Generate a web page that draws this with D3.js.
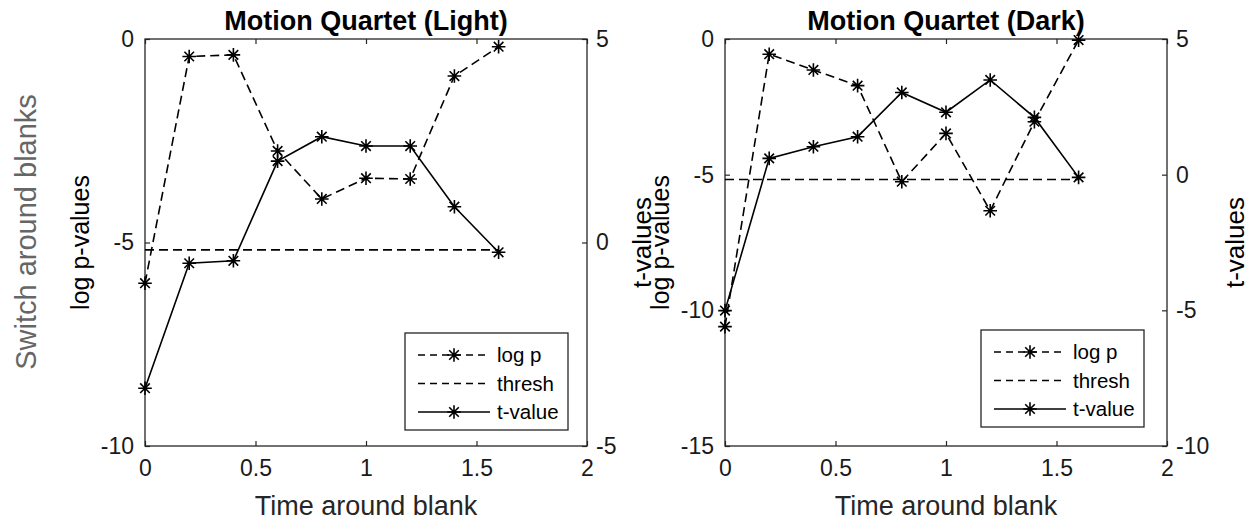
<!DOCTYPE html>
<html>
<head>
<meta charset="utf-8">
<script src="https://cdn.jsdelivr.net/npm/d3@7"></script>
<style>
  html, body { margin: 0; padding: 0; background: #fff; }
  svg { display: block; }
  text { font-family: "Liberation Sans", Arial, Helvetica, sans-serif; }
</style>
</head>
<body>
<svg id="fig" width="1259" height="521"></svg>
<script>
// Time points around the blank
const time = [0, 0.2, 0.4, 0.6, 0.8, 1.0, 1.2, 1.4, 1.6];

// Motion Quartet (Light)
const lightLogP = [-6.0, -0.43, -0.39, -2.75, -3.93, -3.42, -3.44, -0.91, -0.19];
const lightT    = [-3.58, -0.51, -0.45, 2.0, 2.6, 2.37, 2.37, 0.88, -0.24];

// Motion Quartet (Dark)
const darkLogP = [-10.6, -0.56, -1.14, -1.72, -5.26, -3.48, -6.33, -3.05, -0.04];
const darkT    = [-5.01, 0.6, 1.03, 1.4, 3.03, 2.3, 3.49, 2.11, -0.1];

// Significance threshold on log p
const threshValue = -5.18;
const threshSpan = [0, 1.6];

// Axis ticks
const xTicks = [0, 0.5, 1, 1.5, 2];
const lightLeftTicks = [0, -5, -10];
const lightRightTicks = [5, 0, -5];
const darkLeftTicks = [0, -5, -10, -15];
const darkRightTicks = [5, 0, -5, -10];

const legendLabels = ["log p", "thresh", "t-value"];

const svg = d3.select("#fig");
const AX = "#262626";
const DASH = "9,5";
const LW = 1.6;

// asterisk marker: + and x superimposed
function asterisk(g, x, y) {
  const r = 6.8, d = 4.8;
  const p = `M${x - r},${y}L${x + r},${y}M${x},${y - r}L${x},${y + r}` +
            `M${x - d},${y - d}L${x + d},${y + d}M${x - d},${y + d}L${x + d},${y - d}`;
  g.append("path").attr("d", p).attr("stroke", "#000").attr("stroke-width", 1.6).attr("fill", "none");
}

function panel(opts) {
  const { left, right, top, bottom, title, logP, tVals, leftDomain, rightDomain,
          leftTicks, rightTicks, leftLabelX, rightLabels } = opts;
  const g = svg.append("g");
  const x = d3.scaleLinear().domain([0, 2]).range([left, right]);
  const yL = d3.scaleLinear().domain(leftDomain).range([bottom, top]);
  const yR = d3.scaleLinear().domain(rightDomain).range([bottom, top]);
  const tick = 5;

  // axes with inward ticks on all four sides
  const bottomAxis = d3.axisBottom(x).tickValues(xTicks).tickSize(-tick).tickPadding(14)
    .tickFormat(d3.format("~g"));
  const topAxis = d3.axisTop(x).tickValues(xTicks).tickSize(-tick).tickFormat("");
  const leftAxis = d3.axisLeft(yL).tickValues(leftTicks).tickSize(-tick).tickPadding(11)
    .tickFormat(d => d < 0 ? "-" + Math.abs(d) : d);
  const rightAxis = d3.axisRight(yR).tickValues(rightTicks).tickSize(-tick).tickPadding(9)
    .tickFormat(d => d < 0 ? "-" + Math.abs(d) : d);

  const style = sel => {
    sel.selectAll(".tick line").attr("stroke", AX).attr("stroke-width", 1.2);
    sel.selectAll(".tick text").attr("fill", "#1a1a1a").style("font-size", "23px")
      .style("font-family", '"Liberation Sans", Arial, sans-serif');
  };
  g.append("g").attr("transform", `translate(0,${bottom})`).call(bottomAxis).call(style);
  g.append("g").attr("transform", `translate(0,${top})`).call(topAxis).call(style);
  g.append("g").attr("transform", `translate(${left},0)`).call(leftAxis).call(style);
  g.append("g").attr("transform", `translate(${right},0)`).call(rightAxis).call(style);
  g.selectAll(".domain").remove();
  g.append("rect").attr("x", left).attr("y", top).attr("width", right - left).attr("height", bottom - top)
    .attr("fill", "none").attr("stroke", AX).attr("stroke-width", 1.3);

  // title
  g.append("text").attr("x", (left + right) / 2).attr("y", 30).attr("text-anchor", "middle")
    .style("font-size", "27px").style("font-weight", "bold").attr("fill", "#000").text(title);
  // x label
  g.append("text").attr("x", (left + right) / 2).attr("y", 515).attr("text-anchor", "middle")
    .style("font-size", "27px").attr("fill", AX).text("Time around blank");
  // y labels
  const cy = (top + bottom) / 2;
  g.append("text").attr("transform", `translate(${leftLabelX},${cy}) rotate(-90)`)
    .attr("text-anchor", "middle").style("font-size", "25px").attr("fill", "#000").text("log p-values");
  rightLabels.forEach(xr => {
    g.append("text").attr("transform", `translate(${xr},${cy}) rotate(-90)`)
      .attr("text-anchor", "middle").style("font-size", "26px").attr("fill", "#000").text("t-values");
  });

  // threshold line
  g.append("line").attr("x1", x(threshSpan[0])).attr("x2", x(threshSpan[1]))
    .attr("y1", yL(threshValue)).attr("y2", yL(threshValue))
    .attr("stroke", "#000").attr("stroke-width", LW).attr("stroke-dasharray", DASH);

  // log p (dashed) and t-value (solid)
  const lineL = d3.line().x((d, i) => x(time[i])).y(d => yL(d));
  const lineR = d3.line().x((d, i) => x(time[i])).y(d => yR(d));
  g.append("path").attr("d", lineL(logP)).attr("fill", "none").attr("stroke", "#000")
    .attr("stroke-width", LW).attr("stroke-dasharray", DASH);
  g.append("path").attr("d", lineR(tVals)).attr("fill", "none").attr("stroke", "#000")
    .attr("stroke-width", LW);
  logP.forEach((d, i) => asterisk(g, x(time[i]), yL(d)));
  tVals.forEach((d, i) => asterisk(g, x(time[i]), yR(d)));

  // legend
  const lx = opts.legend[0], ly = opts.legend[1], lw = 163, lh = 97;
  const lg = g.append("g");
  lg.append("rect").attr("x", lx).attr("y", ly).attr("width", lw).attr("height", lh)
    .attr("fill", "#fff").attr("stroke", AX).attr("stroke-width", 1.3);
  legendLabels.forEach((lab, i) => {
    const yy = ly + 22 + i * 28.5;
    const x0 = lx + 13, x1 = lx + 85;
    lg.append("line").attr("x1", x0).attr("x2", x1).attr("y1", yy).attr("y2", yy)
      .attr("stroke", "#000").attr("stroke-width", LW)
      .attr("stroke-dasharray", i < 2 ? "7,5" : null);
    if (i !== 1) asterisk(lg, (x0 + x1) / 2, yy);
    lg.append("text").attr("x", lx + 92).attr("y", yy).attr("dy", "0.35em")
      .style("font-size", "20.5px").attr("fill", "#000").text(lab);
  });
}

panel({
  left: 145, right: 587, top: 39, bottom: 446,
  title: "Motion Quartet (Light)",
  logP: lightLogP, tVals: lightT,
  leftDomain: [-10, 0], rightDomain: [-5, 5],
  leftTicks: lightLeftTicks, rightTicks: lightRightTicks,
  leftLabelX: 89, rightLabels: [],
  legend: [405, 333]
});

panel({
  left: 725, right: 1167, top: 39, bottom: 446,
  title: "Motion Quartet (Dark)",
  logP: darkLogP, tVals: darkT,
  leftDomain: [-15, 0], rightDomain: [-10, 5],
  leftTicks: darkLeftTicks, rightTicks: darkRightTicks,
  leftLabelX: 669, rightLabels: [651, 1244],
  legend: [981, 330]
});

// row label
svg.append("text").attr("transform", "translate(36,232) rotate(-90)")
  .attr("text-anchor", "middle").style("font-size", "29px").attr("fill", "#666")
  .text("Switch around blanks");
</script>
</body>
</html>
